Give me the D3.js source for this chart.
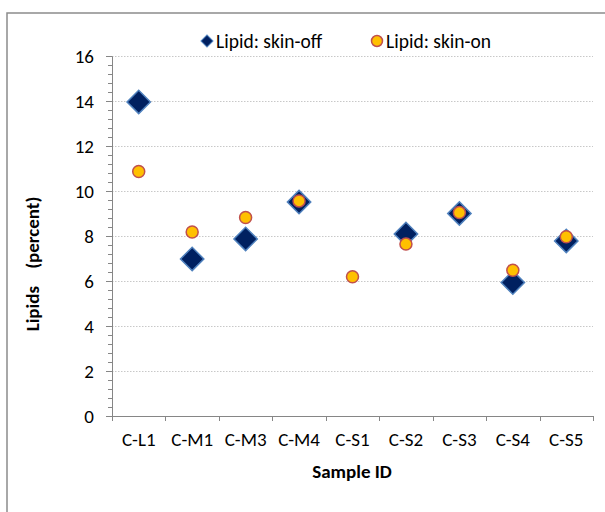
<!DOCTYPE html>
<html>
<head>
<meta charset="utf-8">
<script src="https://cdn.jsdelivr.net/npm/d3@7"></script>
<style>
  html, body { margin: 0; padding: 0; background: #fff; }
  svg { display: block; }
  text { font-family: Carlito, Lato, "Open Sans", sans-serif; fill: #000; }
</style>
</head>
<body>
<svg id="chart" width="605" height="512"></svg>
<script>
const categories = ["C-L1", "C-M1", "C-M3", "C-M4", "C-S1", "C-S2", "C-S3", "C-S4", "C-S5"];
const skinOff = [13.96, 6.98, 7.87, 9.51, null, 8.09, 9.0, 5.93, 7.78];
const skinOn = [10.87, 8.18, 8.82, 9.56, 6.19, 7.64, 9.04, 6.48, 7.97];
const yTicks = [0, 2, 4, 6, 8, 10, 12, 14, 16];
const seriesNames = ["Lipid: skin-off", "Lipid: skin-on"];

const FS = 19;
const LFS = 19.5;
const svg = d3.select("#chart");
const pLeft = 112, pRight = 593, pTop = 56, pBottom = 416;

// outer frame (left & top edges visible)
svg.append("rect").attr("x", 7).attr("y", 13).attr("width", 640).attr("height", 560)
  .attr("fill", "none").attr("stroke", "#8c8c8c").attr("stroke-width", 1.5);

const x = d3.scaleBand().domain(categories).range([pLeft, pRight]).padding(0);
const y = d3.scaleLinear().domain([0, 16]).range([pBottom, pTop]);

// gridlines
svg.append("g").selectAll("line").data(yTicks.filter(d => d > 0)).join("line")
  .attr("x1", pLeft).attr("x2", pRight)
  .attr("y1", d => Math.round(y(d)) + 0.5).attr("y2", d => Math.round(y(d)) + 0.5)
  .attr("stroke", "#c8c8c8").attr("stroke-width", 1).attr("stroke-dasharray", "1.5,1.5");

// y axis minor ticks
const minor = d3.range(0, 16.001, 0.4).map(v => Math.round(v * 10) / 10);
svg.append("g").selectAll("line").data(minor).join("line")
  .attr("x1", pLeft - 4).attr("x2", pLeft)
  .attr("y1", d => Math.round(y(d)) + 0.5).attr("y2", d => Math.round(y(d)) + 0.5)
  .attr("stroke", "#868686").attr("stroke-width", 1);

// y axis
const yAxis = d3.axisLeft(y).tickValues(yTicks).tickSize(6).tickPadding(12).tickFormat(d3.format("d"));
const gy = svg.append("g").attr("transform", `translate(${pLeft},0)`).call(yAxis);
gy.attr("font-size", FS).attr("font-family", null);
gy.select(".domain").attr("stroke", "#868686");
gy.selectAll(".tick line").attr("stroke", "#868686");
gy.selectAll(".tick text").attr("fill", "#000");

// x axis
const xAxis = d3.axisBottom(x).tickSize(0).tickPadding(17);
const gx = svg.append("g").attr("transform", `translate(0,${pBottom})`).call(xAxis);
gx.attr("font-size", FS).attr("font-family", null);
gx.select(".domain").attr("stroke", "#868686");
gx.selectAll(".tick text").attr("fill", "#000");
// category boundary ticks
const bounds = categories.map(c => x(c)).concat([pRight]);
svg.append("g").selectAll("line").data(bounds).join("line")
  .attr("x1", d => Math.round(d) + 0.5).attr("x2", d => Math.round(d) + 0.5)
  .attr("y1", pBottom).attr("y2", pBottom + 5)
  .attr("stroke", "#868686");

const cx = c => x(c) + x.bandwidth() / 2;

// skin-off diamonds
svg.append("g").selectAll("path")
  .data(categories.map((c, i) => ({ c, v: skinOff[i] })).filter(d => d.v != null))
  .join("path")
  .attr("d", d3.symbol().type(d3.symbolSquare).size(16.5 * 16.5)())
  .attr("transform", d => `translate(${cx(d.c)},${y(d.v)}) rotate(45)`)
  .attr("fill", "#002060").attr("stroke", "#4f81bd").attr("stroke-width", 1.5);

// skin-on circles
svg.append("g").selectAll("circle")
  .data(categories.map((c, i) => ({ c, v: skinOn[i] })).filter(d => d.v != null))
  .join("circle")
  .attr("cx", d => cx(d.c)).attr("cy", d => y(d.v)).attr("r", 6)
  .attr("fill", "#ffc000").attr("stroke", "#c0504d").attr("stroke-width", 1.5);

// legend
const lg = svg.append("g");
lg.append("path").attr("d", d3.symbol().type(d3.symbolSquare).size(8.5 * 8.5)())
  .attr("transform", "translate(207,41) rotate(45)").attr("fill", "#002060").attr("stroke", "#4f81bd").attr("stroke-width", 1);
lg.append("text").attr("x", 216).attr("y", 41).attr("dy", "0.35em").attr("font-size", LFS).text(seriesNames[0]);
lg.append("circle").attr("cx", 377).attr("cy", 41).attr("r", 5.5)
  .attr("fill", "#ffc000").attr("stroke", "#c0504d").attr("stroke-width", 1.5);
lg.append("text").attr("x", 386).attr("y", 41).attr("dy", "0.35em").attr("font-size", LFS).text(seriesNames[1]);

// axis titles
svg.append("text").attr("x", 352).attr("y", 478).attr("text-anchor", "middle")
  .attr("font-size", FS).attr("font-weight", "bold").text("Sample ID");
svg.append("text").attr("transform", "translate(39,264) rotate(-90)").attr("text-anchor", "middle")
  .attr("font-size", FS).attr("font-weight", "bold").style("white-space", "pre").text("Lipids    (percent)");
</script>
</body>
</html>
